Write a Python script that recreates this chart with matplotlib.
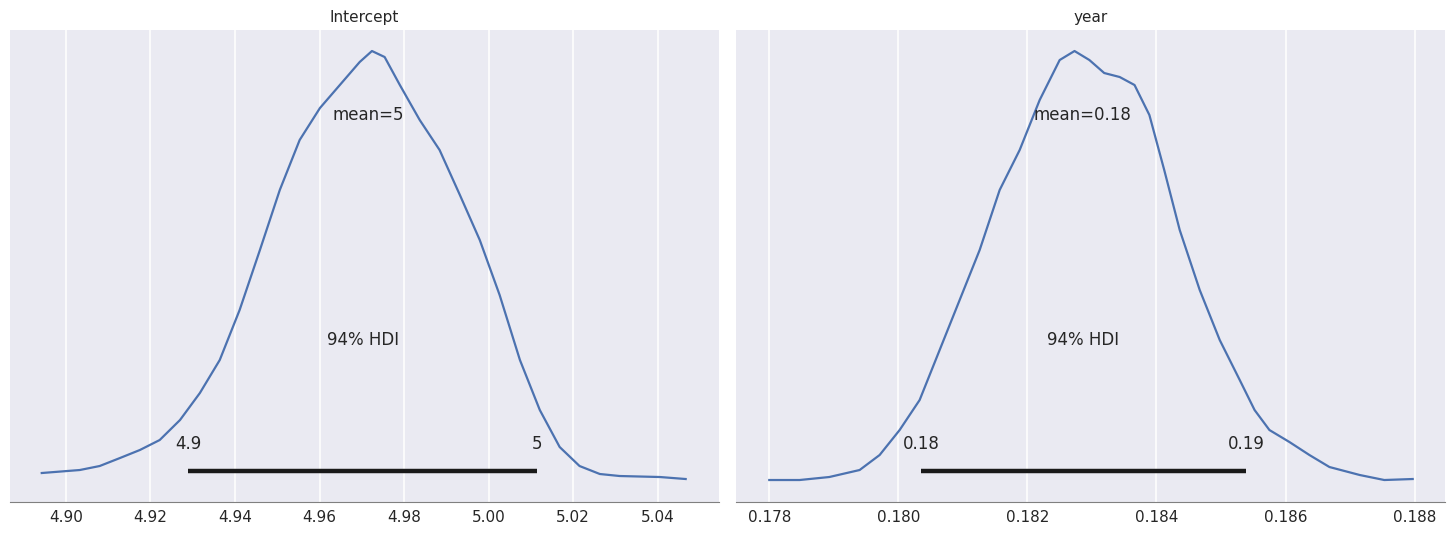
import matplotlib
matplotlib.use("Agg")
from matplotlib import pyplot as plt

# posterior density curves (arbitrary height units)
intercept_x = [4.8943, 4.9033, 4.9080, 4.9128, 4.9175, 4.9222, 4.9270, 4.9317, 4.9364, 4.9411,
               4.9459, 4.9506, 4.9553, 4.9601, 4.9648, 4.9695, 4.9724, 4.9754, 4.9790, 4.9837,
               4.9884, 4.9932, 4.9979, 5.0026, 5.0074, 5.0121, 5.0168, 5.0215, 5.0263, 5.0310,
               5.0405, 5.0466]
intercept_y = [29, 32, 36, 44, 52, 62, 82, 109, 142, 192, 252, 312, 362, 394, 417, 440, 451, 445,
               417, 382, 352, 307, 262, 207, 142, 92, 55, 36, 28, 26, 25, 23]
year_x = [0.17800, 0.17847, 0.17893, 0.17940, 0.17971, 0.18002, 0.18033, 0.18064, 0.18095,
          0.18126, 0.18157, 0.18188, 0.18219, 0.18250, 0.18273, 0.18296, 0.18319, 0.18343,
          0.18366, 0.18389, 0.18412, 0.18436, 0.18467, 0.18498, 0.18529, 0.18552, 0.18575,
          0.18606, 0.18637, 0.18668, 0.18715, 0.18753, 0.18797]
year_y = [22, 22, 25, 32, 47, 72, 102, 152, 202, 252, 312, 352, 402, 442, 451, 442, 429, 425,
          417, 387, 332, 272, 212, 162, 122, 92, 72, 60, 47, 35, 27, 22, 23]

titles = ["Intercept", "year"]
mean_labels = ["mean=5", "mean=0.18"]
mean_vals = [4.9715, 0.18285]
hdi_low = [4.929, 0.18035]
hdi_high = [5.0115, 0.18539]
hdi_low_lab = ["4.9", "0.18"]
hdi_high_lab = ["5", "0.19"]
xlims = [(4.8868, 5.0544), (0.17749, 0.18847)]
xticks = [[4.90, 4.92, 4.94, 4.96, 4.98, 5.00, 5.02, 5.04],
          [0.178, 0.180, 0.182, 0.184, 0.186, 0.188]]
tick_fmt = ["{:.2f}", "{:.3f}"]

fig, axes = plt.subplots(1, 2, figsize=(14.55, 5.36), dpi=100)
fig.subplots_adjust(left=0.0069, right=0.9931, top=0.944, bottom=0.0634, wspace=0.025)

curves = [(intercept_x, intercept_y), (year_x, year_y)]
for i, ax in enumerate(axes):
    ax.set_facecolor("#eaeaf2")
    xs, ys = curves[i]
    ax.plot(xs, ys, color="#4c72b0", lw=1.6)
    ax.plot([hdi_low[i], hdi_high[i]], [31, 31], color="#1a1a1a", lw=3.2, solid_capstyle="butt")
    ax.text(hdi_low[i], 58, hdi_low_lab[i], ha="center", va="center", fontsize=12, color="#262626")
    ax.text(hdi_high[i], 58, hdi_high_lab[i], ha="center", va="center", fontsize=12, color="#262626")
    ax.text(mean_vals[i], 387, mean_labels[i], ha="center", va="center", fontsize=12, color="#262626")
    ax.text((hdi_low[i] + hdi_high[i]) / 2, 162, "94% HDI", ha="center", va="center",
            fontsize=12, color="#262626")
    ax.set_xlim(*xlims[i])
    ax.set_ylim(0, 472)
    ax.set_xticks(xticks[i])
    ax.set_xticklabels([tick_fmt[i].format(t) for t in xticks[i]], fontsize=11, color="#262626")
    ax.set_yticks([])
    ax.grid(axis="x", color="white", lw=1.1)
    ax.set_axisbelow(True)
    for s in ["left", "right", "top"]:
        ax.spines[s].set_visible(False)
    ax.spines["bottom"].set_color("#808080")
    ax.tick_params(axis="x", length=0, pad=6)
    ax.set_title(titles[i], fontsize=11, color="#262626", pad=6)

fig.savefig("out.png")
